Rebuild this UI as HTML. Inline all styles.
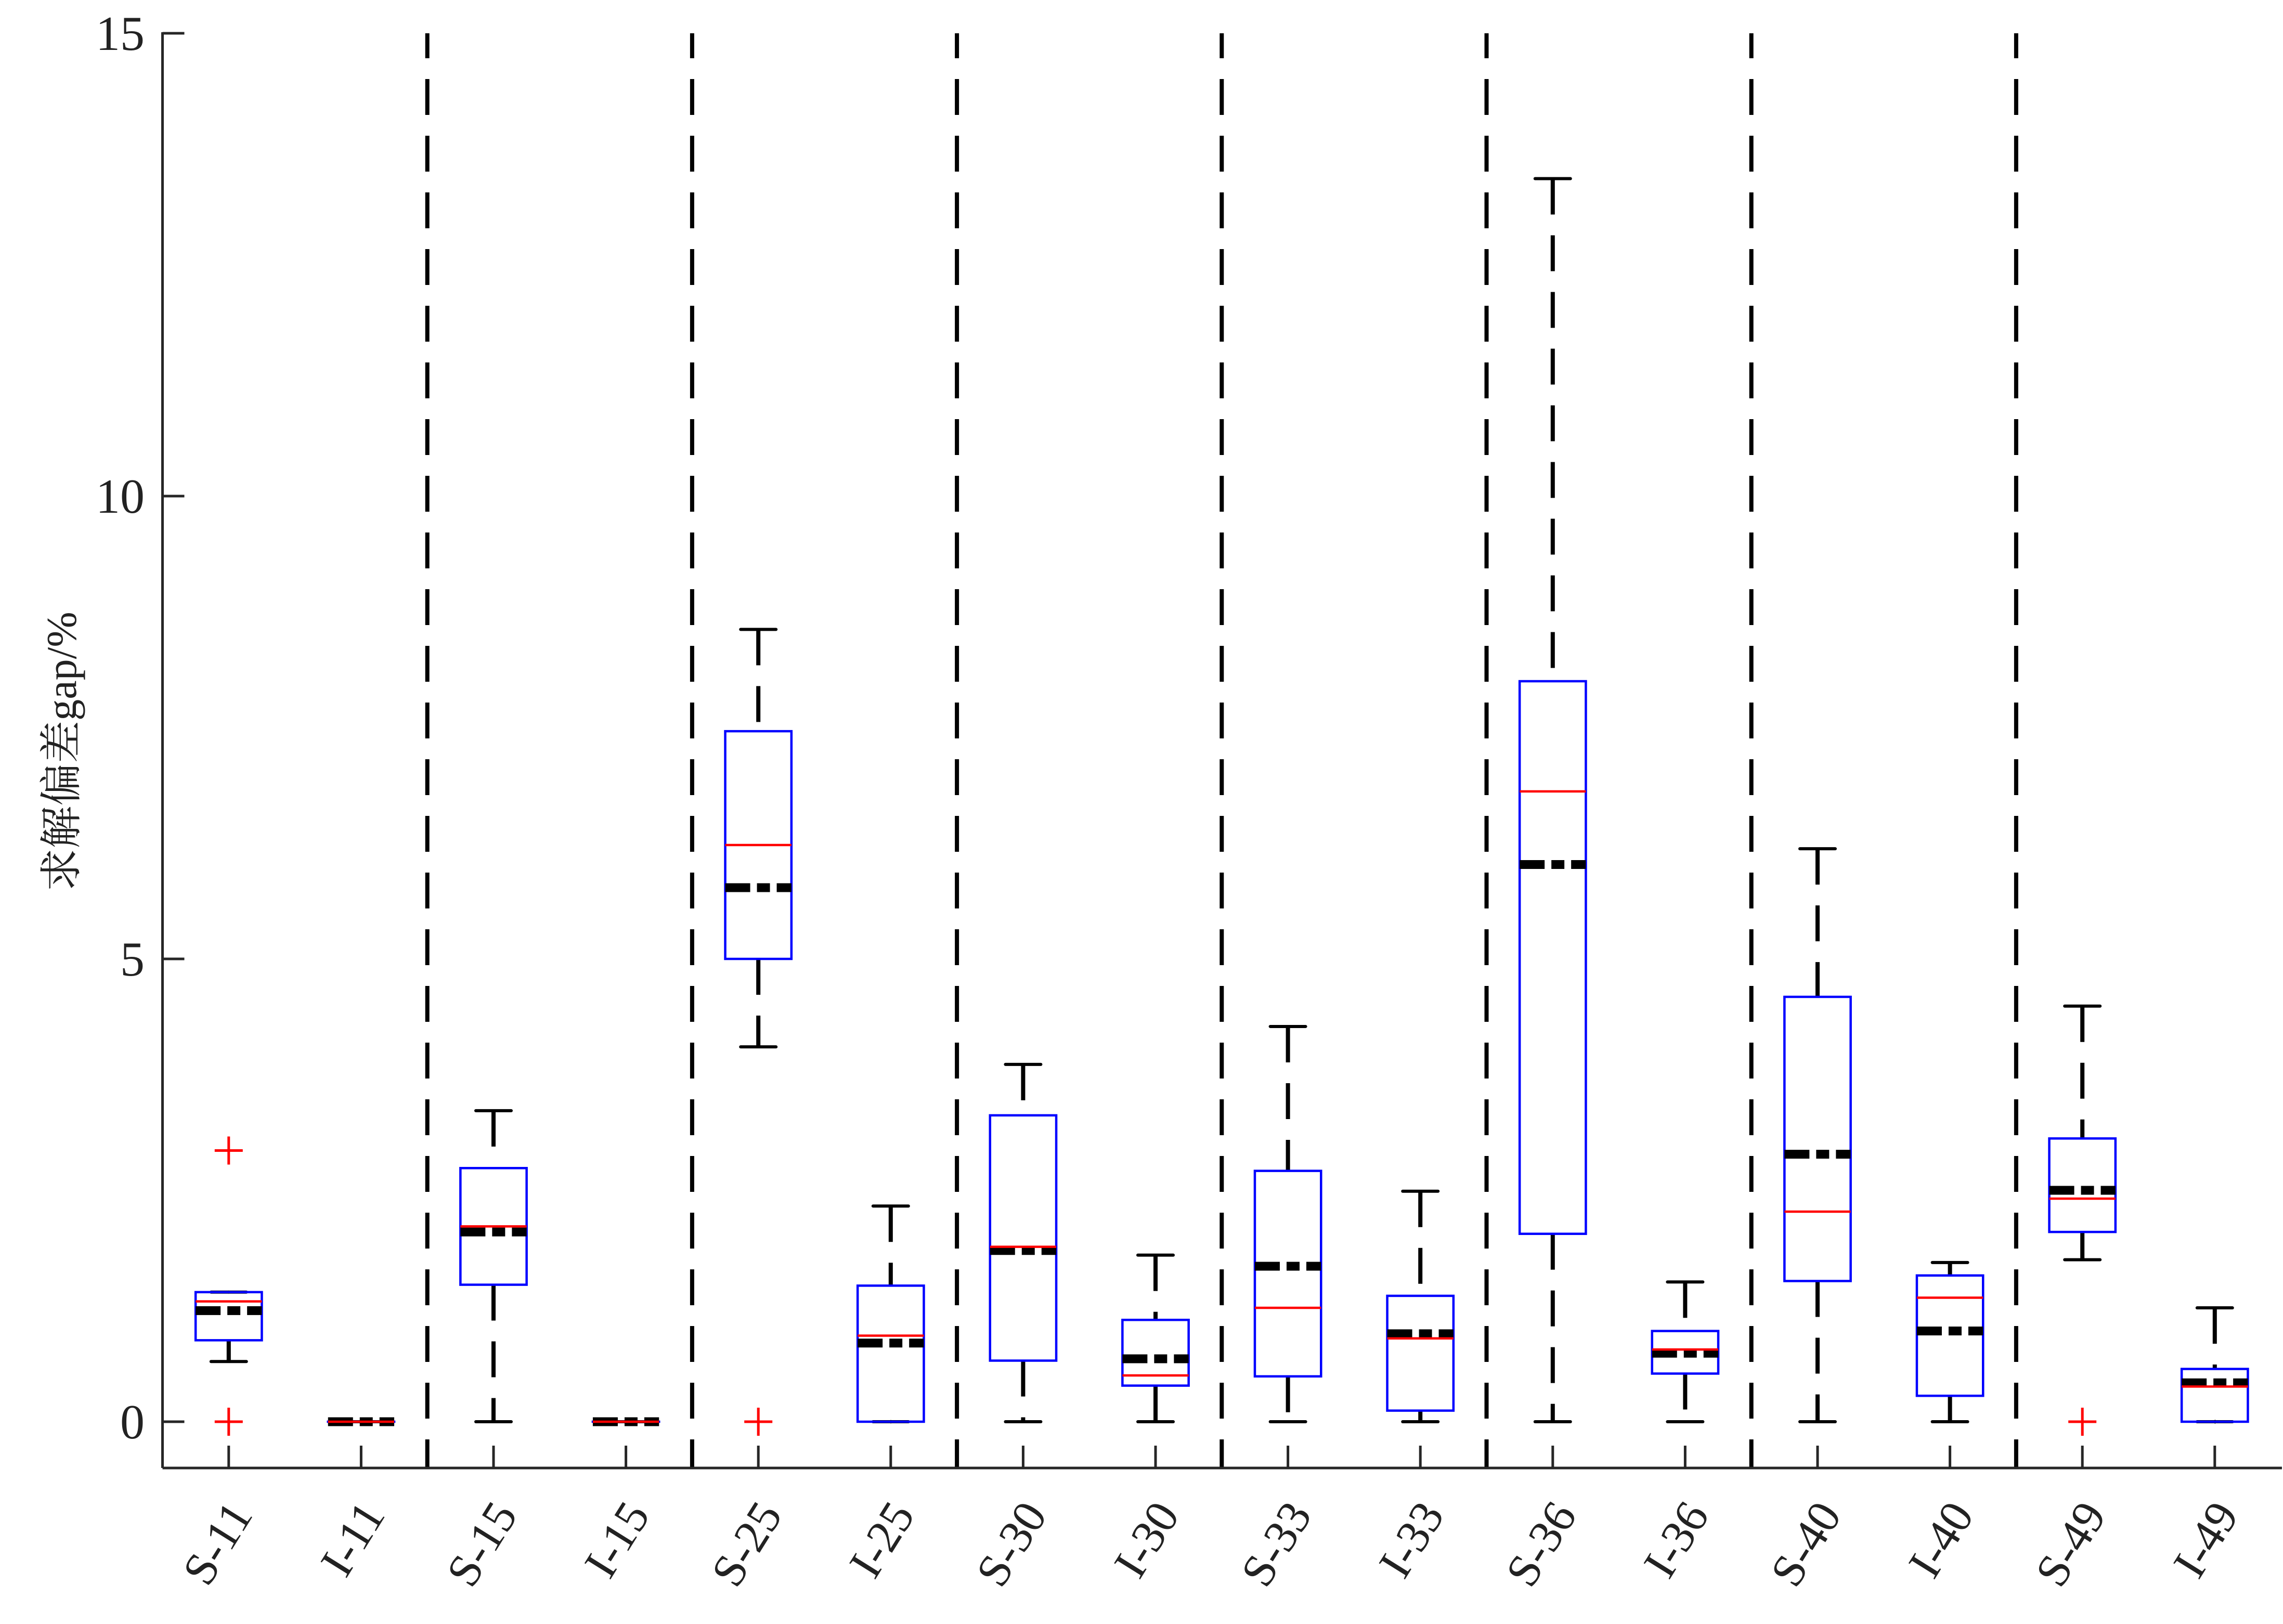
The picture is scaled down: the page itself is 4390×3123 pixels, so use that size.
<!DOCTYPE html>
<html><head><meta charset="utf-8"><style>
html,body{margin:0;padding:0;background:#fff}
svg{display:block}
text{font-family:"Liberation Serif","Noto Serif CJK SC",serif;fill:#222}
</style></head><body>
<svg id="chart" width="4390" height="3123" viewBox="0 0 4390 3123" xmlns="http://www.w3.org/2000/svg">
<g id="grid"></g>
<g id="boxes"></g>
<g id="axes"></g>
<text transform="translate(146,1445) rotate(-90)" text-anchor="middle" font-size="82">求解偏差gap/%</text>
</svg>
<script>
const categories = ["S-11","I-11","S-15","I-15","S-25","I-25","S-30","I-30","S-33","I-33","S-36","I-36","S-40","I-40","S-49","I-49"];
const whiskerLow = [0.65,0,0,0,4.05,0,0,0,0,0,0,0,0,0,1.75,0];
const q1 = [0.88,0,1.48,0,5.0,0,0.66,0.39,0.49,0.12,2.03,0.52,1.52,0.28,2.05,0];
const medians = [1.3,0,2.11,0,6.23,0.93,1.89,0.5,1.23,0.9,6.81,0.78,2.27,1.34,2.41,0.38];
const means = [1.2,0,2.05,0,5.77,0.85,1.85,0.68,1.68,0.95,6.02,0.74,2.89,0.98,2.5,0.42];
const q3 = [1.4,0,2.74,0,7.46,1.47,3.31,1.1,2.71,1.36,8.0,0.98,4.59,1.58,3.06,0.57];
const whiskerHigh = [1.4,0,3.36,0,8.56,2.33,3.86,1.8,4.27,2.49,13.43,1.51,6.19,1.72,4.49,1.23];
const outlierCat = [0,0,4,14];
const outlierVal = [2.93,0,0,0];
const yTicks = [0,5,10,15];

const NS="http://www.w3.org/2000/svg";
const X0=312.5, STEP=254.6, Y0=2734, UNIT=178, AXB=2823, XR=4388;
const xs = i => X0 + STEP*(i+0.5);
const ys = v => Y0 - UNIT*v;
function mk(tag, attrs, parent){const e=document.createElementNS(NS,tag);for(const k in attrs)e.setAttribute(k,attrs[k]);parent.appendChild(e);return e;}
const grid=document.getElementById('grid'), boxes=document.getElementById('boxes'), axes=document.getElementById('axes');

for(let i=1;i<categories.length-1;i+=2){
  const l=mk('line',{x1:X0+STEP*(i+1),x2:X0+STEP*(i+1),y1:ys(15),y2:AXB,stroke:'#000','stroke-width':8,'stroke-dasharray':'69 40','stroke-dashoffset':21},grid);
  
  
}

categories.forEach((c,i)=>{
  const cx=xs(i), hw=STEP*0.25, cw=34;
  const g=mk('g',{},boxes);
  
  
  mk('line',{x1:cx,x2:cx,y1:ys(whiskerHigh[i]),y2:ys(q3[i]),stroke:'#000','stroke-width':8,'stroke-dasharray':'69 40'},g);
  mk('line',{x1:cx,x2:cx,y1:ys(q1[i]),y2:ys(whiskerLow[i]),stroke:'#000','stroke-width':8,'stroke-dasharray':'69 40'},g);
  mk('line',{x1:cx-cw,x2:cx+cw,y1:ys(whiskerHigh[i]),y2:ys(whiskerHigh[i]),stroke:'#000','stroke-width':6,'stroke-linecap':'round'},g);
  mk('line',{x1:cx-cw,x2:cx+cw,y1:ys(whiskerLow[i]),y2:ys(whiskerLow[i]),stroke:'#000','stroke-width':6,'stroke-linecap':'round'},g);
  mk('rect',{x:cx-hw,y:ys(q3[i]),width:2*hw,height:Math.max(0.01,ys(q1[i])-ys(q3[i])),fill:'none',stroke:'#0000ff','stroke-width':4.5},g);
  mk('line',{x1:cx-hw,x2:cx+hw,y1:ys(means[i]),y2:ys(means[i]),stroke:'#000','stroke-width':17,'stroke-dasharray':'48 13 25 13'},g);
  mk('line',{x1:cx-hw,x2:cx+hw,y1:ys(medians[i]),y2:ys(medians[i]),stroke:'#ff0000','stroke-width':4.5},g);
});

outlierCat.forEach((ci,k)=>{
  const cx=xs(ci), cy=ys(outlierVal[k]);
  const p=mk('path',{d:`M${cx-27},${cy}H${cx+27}M${cx},${cy-27}V${cy+27}`,stroke:'#ff0000','stroke-width':5,fill:'none'},boxes);
  
  
});

mk('line',{x1:X0,x2:X0,y1:ys(15)-2,y2:AXB,stroke:'#262626','stroke-width':5},axes);
mk('line',{x1:X0,x2:XR,y1:AXB,y2:AXB,stroke:'#262626','stroke-width':5},axes);
yTicks.forEach(v=>{
  mk('line',{x1:X0,x2:X0+42,y1:ys(v),y2:ys(v),stroke:'#262626','stroke-width':5},axes);
  const t=mk('text',{x:278,y:ys(v)+32,'text-anchor':'end','font-size':94},axes);
  t.textContent=v;
  
  
});
categories.forEach((c,i)=>{
  const cx=xs(i);
  mk('line',{x1:cx,x2:cx,y1:AXB,y2:AXB-43,stroke:'#262626','stroke-width':5},axes);
  const t=mk('text',{transform:`translate(${cx+48},${AXB+90}) rotate(-58)`,'text-anchor':'end','font-size':90},axes);
  t.textContent=c;
  
  
});
</script>
</body></html>
